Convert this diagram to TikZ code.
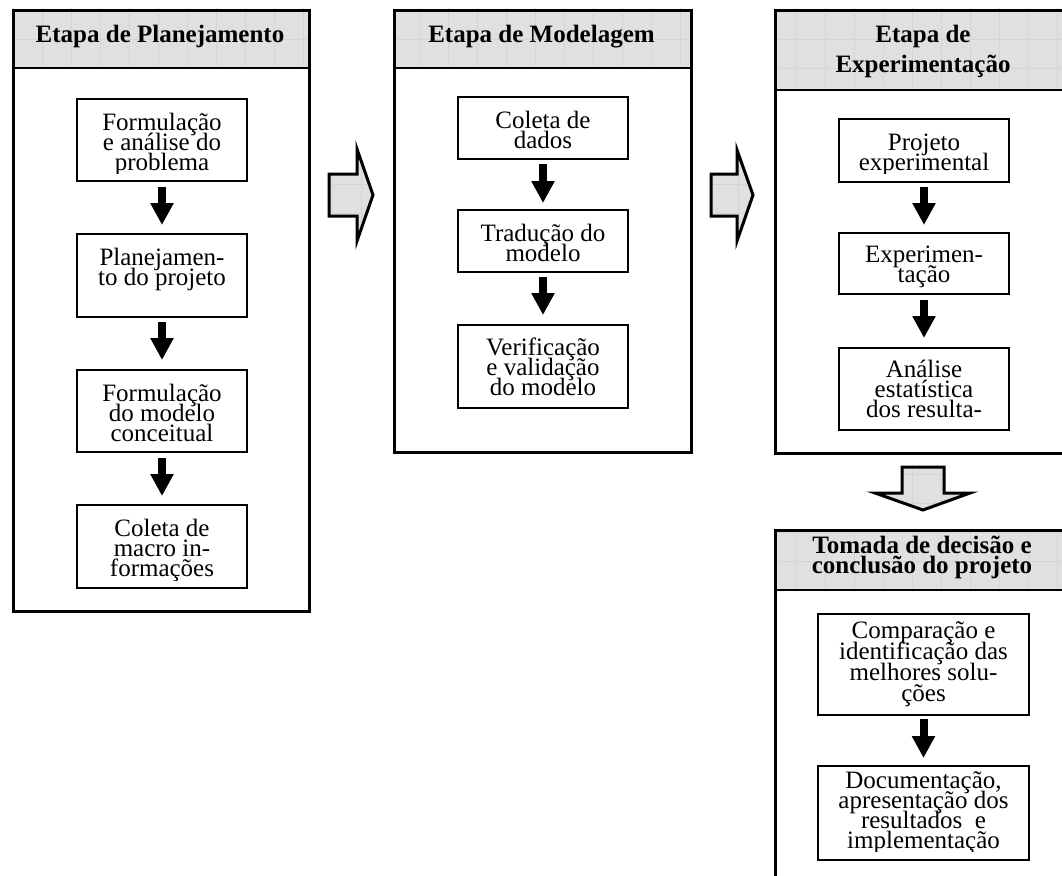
\documentclass[tikz,border=0pt]{standalone}
\usepackage{fontspec}
\setmainfont{Liberation Serif}
\usetikzlibrary{arrows.meta}

\newcommand\bodyfont{\fontsize{25pt}{20pt}\selectfont\lineskiplimit=-100pt\lineskip=0pt}
\newcommand\bodyfontwide{\fontsize{25pt}{21pt}\selectfont\lineskiplimit=-100pt\lineskip=0pt}
\newcommand\headfont{\bfseries\fontsize{25pt}{20pt}\selectfont\lineskiplimit=-100pt\lineskip=0pt}
\newcommand\headfontwide{\bfseries\fontsize{25pt}{29pt}\selectfont\lineskiplimit=-100pt\lineskip=0pt}

\tikzset{
  panel/.style={draw, line width=3pt, inner sep=0pt, anchor=north west},
  stepbox/.style={draw, line width=2pt, inner sep=0pt, anchor=north west},
  steptext/.style={inner sep=0pt, align=center, anchor=base, font=\bodyfont},
  headtext/.style={inner sep=0pt, align=center, anchor=base, font=\headfont},
  flow/.style={line width=8pt, -{Triangle[width=22pt,length=22pt]}},
  shade/.style={fill=gray!24},
  gridline/.style={draw=gray!33, line width=0.6pt},
  blockline/.style={draw, line width=3pt, miter limit=10},
  divider/.style={line width=2pt},
}

% faint grid laid over the shaded areas
\newcommand\gridlines{%
  \foreach \k in {0,...,36} {
    \draw[gridline] ({13+29*\k},0) -- ({13+29*\k},875);
  }
  \foreach \k in {0,...,30} {
    \draw[gridline] (0,{10+29*\k}) -- (1062,{10+29*\k});
  }}

% shaded, gridded shape, optionally with a heavy outline
\newcommand\shadedshape[2]{%
  \fill[shade] #1;
  \begin{scope}
    \clip #1;
    \gridlines
  \end{scope}
  \ifx\relax#2\relax\else\draw[blockline] #1;\fi}

% text of a step box: name, drop to the last baseline, bottom inset, text, style
\newcommand\stepbody[5]{%
  \begin{scope}
    \clip ([xshift=1pt,yshift=-1pt]#1.north west) rectangle ([xshift=-1pt,yshift=#3]#1.south east);
    \node[steptext,#5] (#1t) at ([yshift=-#2]#1.north) {#4};
  \end{scope}}

\begin{document}
\begin{tikzpicture}[x=1pt,y=-1pt]
\useasboundingbox (0,0) rectangle (1062,875);
\clip (0,0) rectangle (1062,875);

% ---- header bands ----
\shadedshape{(12,9) rectangle (308,68)}{}
\shadedshape{(393,9) rectangle (690,68)}{}
\shadedshape{(774,9) rectangle (1072,90)}{}
\shadedshape{(774,529) rectangle (1072,590)}{}

% ---- panels ----
\node[panel, minimum width=296pt, minimum height=601pt] (p1) at (12,9) {};
\node[panel, minimum width=297pt, minimum height=442pt] (p2) at (393,9) {};
\node[panel, minimum width=298pt, minimum height=443pt] (p3) at (774,9) {};
\node[panel, minimum width=298pt, minimum height=450pt] (p4) at (774,529) {};

\draw[divider] ([yshift=-59pt]p1.north west) -- ([yshift=-59pt]p1.north east);
\draw[divider] ([yshift=-59pt]p2.north west) -- ([yshift=-59pt]p2.north east);
\draw[divider] ([yshift=-81pt]p3.north west) -- ([yshift=-81pt]p3.north east);
\draw[divider] ([yshift=-61pt]p4.north west) -- ([yshift=-61pt]p4.north east);

% ---- panel titles (anchored on the last baseline) ----
\node[headtext] (h1) at (160,43) {Etapa de Planejamento};
\node[headtext] (h2) at (541.5,43) {Etapa de Modelagem};
\node[headtext, font=\headfontwide] (h3) at (923,72) {Etapa de\\Experimentação};
\node[headtext] (h4) at (922,573) {Tomada de decisão e\\conclusão do projeto};

% ---- block arrows between stages ----
\shadedshape{(329,174) -- (357,174) -- (357,149) -- (373,195) -- (357,241) -- (357,216) -- (329,216) -- cycle}{x}
\shadedshape{(711,174) -- (737,174) -- (737,150) -- (753,195) -- (737,241) -- (737,216) -- (711,216) -- cycle}{x}
\shadedshape{(902,467) -- (944,467) -- (944,493) -- (970,493) -- (923,510) -- (875,493) -- (902,493) -- cycle}{x}

% ---- planning steps ----
\node[stepbox, minimum width=170pt, minimum height=82pt] (a1) at (76,98) {};
\node[stepbox, minimum width=170pt, minimum height=83pt] (a2) at (76,233) {};
\node[stepbox, minimum width=170pt, minimum height=82pt] (a3) at (76,369) {};
\node[stepbox, minimum width=170pt, minimum height=83pt] (a4) at (76,504) {};
\stepbody{a1}{72pt}{9pt}{Formulação\\e análise do\\problema}{}
\stepbody{a2}{52pt}{9pt}{Planejamen-\\to do projeto}{}
\stepbody{a3}{72pt}{9pt}{Formulação\\do modelo\\conceitual}{}
\stepbody{a4}{72pt}{9pt}{Coleta de\\macro in-\\formações}{}

% ---- modelling steps ----
\node[stepbox, minimum width=170pt, minimum height=62pt] (b1) at (457,96) {};
\node[stepbox, minimum width=170pt, minimum height=62pt] (b2) at (457,209) {};
\node[stepbox, minimum width=170pt, minimum height=83pt] (b3) at (457,324) {};
\stepbody{b1}{52pt}{8pt}{Coleta de\\dados}{}
\stepbody{b2}{52pt}{8pt}{Tradução do\\modelo}{}
\stepbody{b3}{71pt}{8pt}{Verificação\\e validação\\do modelo}{}

% ---- experimentation steps ----
\node[stepbox, minimum width=170pt, minimum height=63pt] (c1) at (838,118) {};
\node[stepbox, minimum width=170pt, minimum height=61pt] (c2) at (838,232) {};
\node[stepbox, minimum width=170pt, minimum height=82pt] (c3) at (838,347) {};
\stepbody{c1}{52pt}{10pt}{Projeto\\experimental}{}
\stepbody{c2}{50pt}{8pt}{Experimen-\\tação}{}
\stepbody{c3}{70pt}{8pt}{Análise\\estatística\\dos resulta-}{}

% ---- decision steps ----
\node[stepbox, minimum width=211pt, minimum height=101pt] (d1) at (817,613) {};
\node[stepbox, minimum width=211pt, minimum height=94pt] (d2) at (817,765) {};
\stepbody{d1}{88pt}{6pt}{Comparação e\\identificação das\\melhores solu-\\ções}{font=\bodyfontwide}
\stepbody{d2}{83pt}{10pt}{Documentação,\\apresentação dos\\resultados~ e\\implementação}{}

% ---- flow arrows ----
\draw[flow, shorten <=5pt, shorten >=8pt] (a1) -- (a2);
\draw[flow, shorten <=4pt, shorten >=9pt] (a2) -- (a3);
\draw[flow, shorten <=5pt, shorten >=8pt] (a3) -- (a4);
\draw[flow, shorten <=4pt, shorten >=6pt] (b1) -- (b2);
\draw[flow, shorten <=4pt, shorten >=9pt] (b2) -- (b3);
\draw[flow, shorten <=4pt, shorten >=7pt] (c1) -- (c2);
\draw[flow, shorten <=5pt, shorten >=9pt] (c2) -- (c3);
\draw[flow, shorten <=3pt, shorten >=7pt] (d1) -- (d2);
\end{tikzpicture}
\end{document}
